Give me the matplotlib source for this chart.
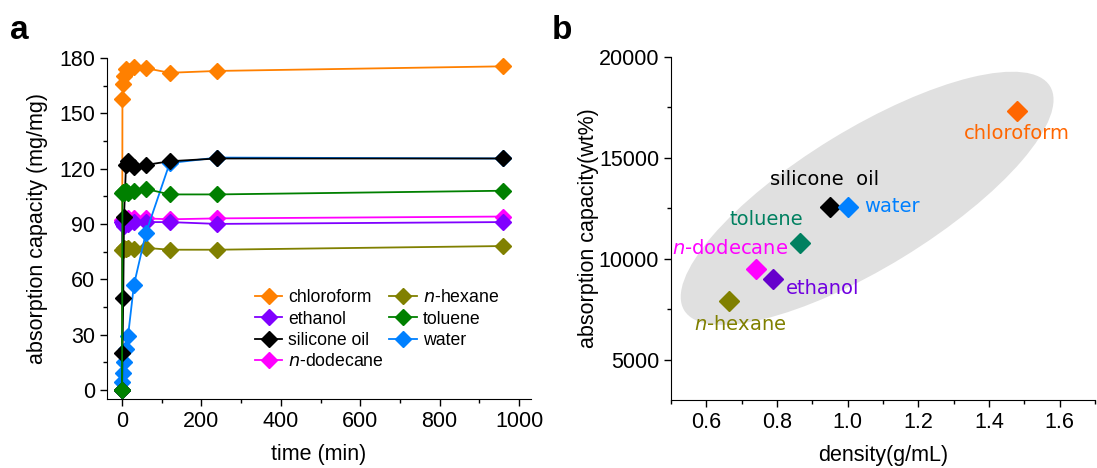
import numpy as np
import matplotlib
matplotlib.use("Agg")
import matplotlib.pyplot as plt
from matplotlib.patches import Ellipse
from matplotlib.transforms import ScaledTranslation
from matplotlib.ticker import MultipleLocator

plt.rcParams['font.family'] = ['Liberation Sans', 'DejaVu Sans']

# panel a: absorption kinetics
times = [0, 1, 3, 5, 10, 15, 30, 60, 120, 240, 960]
chloroform = [0, 158, 166, 170, 174, 173, 175, 174.5, 172, 173, 175.5]
ethanol = [0, 91, 90, 89, 91, 90, 91, 91, 91, 90, 91]
silicone_oil = [0, 20, 50, 94, 122, 124, 121, 122, 124, 125.5, 125.5]
dodecane = [0, 92, 92, 93, 92, 93, 93, 93, 92.5, 93, 94]
hexane = [0, 76, 76, 77, 76.5, 77, 76.5, 77, 76, 76, 78]
toluene = [0, 107, 107.5, 107, 108, 107, 108, 109, 106, 106, 108]
water = [0, 4, 9, 15, 22, 29, 57, 85, 123, 126, 125.5]

# panel b: capacity vs density
solvents = ['chloroform', 'silicone  oil', 'water', 'toluene', '$n$-dodecane', 'ethanol', '$n$-hexane']
density = [1.48, 0.95, 1.0, 0.865, 0.74, 0.79, 0.665]
capacity_wt = [17320, 12570, 12570, 10780, 9490, 9000, 7910]

fig = plt.figure(figsize=(10.97, 4.68), dpi=100)
axa = fig.add_axes([0.0975, 0.1474, 0.3865, 0.7286])
axb = fig.add_axes([0.6117, 0.1453, 0.3865, 0.733])

FS = 15.5
series = [
    ('chloroform', chloroform, '#FF8000', 2),
    ('ethanol', ethanol, '#8000FF', 4),
    ('silicone oil', silicone_oil, '#000000', 6),
    ('$n$-dodecane', dodecane, '#FF00FF', 3),
    ('$n$-hexane', hexane, '#808000', 5),
    ('toluene', toluene, '#008000', 7),
    ('water', water, '#0080FF', 5.5),
]
for name, vals, col, z in series:
    axa.plot(times, vals, '-D', color=col, lw=1.3, ms=8.5, label=name, zorder=z, clip_on=False)

axa.set_xlim(-38, 1030)
axa.set_ylim(-5, 180)
axa.xaxis.set_major_locator(MultipleLocator(200))
axa.xaxis.set_minor_locator(MultipleLocator(100))
axa.yaxis.set_major_locator(MultipleLocator(30))
axa.yaxis.set_minor_locator(MultipleLocator(15))
axa.set_xlabel('time (min)', fontsize=FS, labelpad=9)
axa.set_ylabel('absorption capacity (mg/mg)', fontsize=FS, labelpad=8)
axa.legend(ncol=2, frameon=False, fontsize=12.7, loc='upper left', bbox_to_anchor=(0.328, 0.348),
           borderpad=0, handlelength=1.55, handletextpad=0.35, columnspacing=0.3,
           labelspacing=0.25, markerscale=0.9)

# panel b
ell = Ellipse((0, 0), width=4.29, height=1.38, angle=31.5, facecolor='#E0E0E0', edgecolor='none',
              transform=fig.dpi_scale_trans + ScaledTranslation(1.055, 12995, axb.transData), zorder=0)
axb.add_patch(ell)
pt_colors = ['#FF6600', '#000000', '#0080FF', '#008060', '#FF00FF', '#6600CC', '#808000']
txt_colors = ['#FF6600', '#000000', '#0080FF', '#008060', '#FF00FF', '#7000E0', '#808000']
# label offsets (points) and alignment relative to each marker
offsets = [(0, -16, 'center'), (-4, 20, 'center'), (12, 0, 'left'), (-24, 17, 'center'),
           (23, 15, 'right'), (9, -7, 'left'), (8, -17, 'center')]
for x, y, lab, pc, tc, (dx, dy, ha) in zip(density, capacity_wt, solvents, pt_colors, txt_colors, offsets):
    axb.plot([x], [y], 'D', color=pc, ms=10, zorder=3)
    axb.annotate(lab, (x, y), xytext=(dx, dy), textcoords='offset points', ha=ha, va='center',
                 color=tc, fontsize=14, family=['DejaVu Sans'])

axb.set_xlim(0.5, 1.7)
axb.set_ylim(3000, 20000)
axb.xaxis.set_major_locator(MultipleLocator(0.2))
axb.xaxis.set_minor_locator(MultipleLocator(0.1))
axb.yaxis.set_major_locator(MultipleLocator(5000))
axb.yaxis.set_minor_locator(MultipleLocator(2500))
axb.set_xlabel('density(g/mL)', fontsize=FS, labelpad=9)
axb.set_ylabel('absorption capacity(wt%)', fontsize=FS, labelpad=0)
axb.xaxis.set_major_formatter(matplotlib.ticker.FormatStrFormatter('%.1f'))

for ax in (axa, axb):
    ax.spines['top'].set_visible(False)
    ax.spines['right'].set_visible(False)
    ax.tick_params(which='major', direction='out', length=5, width=1, labelsize=FS)
    ax.tick_params(which='minor', direction='out', length=3, width=1)

fig.text(0.009, 0.935, 'a', fontsize=24, fontweight='bold', va='center')
fig.text(0.503, 0.935, 'b', fontsize=24, fontweight='bold', va='center')

fig.savefig('out.png', dpi=100)
